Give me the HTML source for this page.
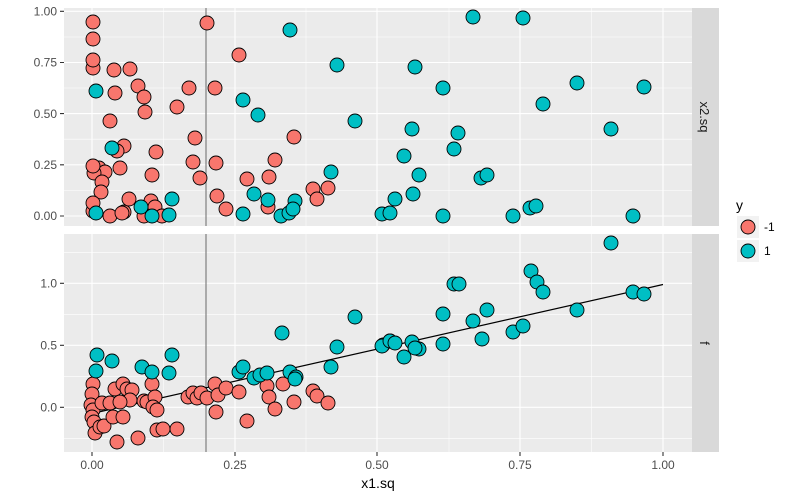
<!DOCTYPE html>
<html><head><meta charset="utf-8"><style>body{margin:0;background:#fff}svg{display:block}text{font-family:"Liberation Sans",sans-serif}</style></head><body>
<svg width="800" height="500" viewBox="0 0 800 500" xmlns="http://www.w3.org/2000/svg">
<rect width="800" height="500" fill="#fff"/>
<rect x="64" y="8" width="628" height="218" fill="#EBEBEB"/>
<rect x="64" y="234" width="628" height="218" fill="#EBEBEB"/>
<rect x="692" y="8" width="27" height="218" fill="#D9D9D9"/>
<rect x="692" y="234" width="27" height="218" fill="#D9D9D9"/>
<g stroke="#fff" fill="none">
<g stroke-width="0.55">
<path d="M163.4 8V226M306 8V226M449 8V226M591.5 8V226M163.4 234V452M306 234V452M449 234V452M591.5 234V452"/>
<path d="M64 190.4H692M64 139.2H692M64 88H692M64 37H692"/>
<path d="M64 438.3H692M64 376.3H692M64 314.3H692M64 252.3H692"/>
</g>
<g stroke-width="1.1">
<path d="M92 8V226M235 8V226M377 8V226M520 8V226M663 8V226M92 234V452M235 234V452M377 234V452M520 234V452M663 234V452"/>
<path d="M64 216H692M64 164.8H692M64 113.6H692M64 62.5H692M64 11.3H692"/>
<path d="M64 407.3H692M64 345.3H692M64 283.3H692"/>
</g>
</g>
<path d="M206 8V226M206 234V452" stroke="#7f7f7f" stroke-width="1.2"/>
<path d="M92 413.5L663 284.5" stroke="#000" stroke-width="1.2"/>
<g stroke="#000" stroke-width="0.9" fill="#F8766D">
<circle cx="93" cy="22" r="7"/><circle cx="93" cy="39" r="7"/><circle cx="93" cy="68" r="7"/><circle cx="93" cy="60" r="7"/><circle cx="114" cy="70" r="7"/><circle cx="130" cy="69" r="7"/><circle cx="138" cy="86" r="7"/><circle cx="144" cy="97" r="7"/><circle cx="145" cy="112" r="7"/><circle cx="115" cy="93" r="7"/><circle cx="110" cy="121" r="7"/><circle cx="124" cy="146" r="7"/><circle cx="117" cy="151" r="7"/><circle cx="120" cy="168" r="7"/><circle cx="99" cy="168" r="7"/><circle cx="105" cy="172" r="7"/><circle cx="94" cy="173" r="7"/><circle cx="93" cy="166" r="7"/><circle cx="102" cy="182" r="7"/><circle cx="101" cy="192" r="7"/><circle cx="93" cy="211" r="7"/><circle cx="93" cy="203" r="7"/><circle cx="110" cy="216" r="7"/><circle cx="124" cy="212" r="7"/><circle cx="122" cy="213" r="7"/><circle cx="129" cy="199" r="7"/><circle cx="144" cy="216" r="7"/><circle cx="151" cy="201" r="7"/><circle cx="155" cy="207" r="7"/><circle cx="162" cy="216" r="7"/><circle cx="152" cy="175" r="7"/><circle cx="156" cy="152" r="7"/><circle cx="177" cy="107" r="7"/><circle cx="189" cy="88" r="7"/><circle cx="195" cy="138" r="7"/><circle cx="193" cy="162" r="7"/><circle cx="200" cy="178" r="7"/><circle cx="207" cy="23" r="7"/><circle cx="215" cy="88" r="7"/><circle cx="216" cy="163" r="7"/><circle cx="217" cy="196" r="7"/><circle cx="226" cy="209" r="7"/><circle cx="239" cy="55" r="7"/><circle cx="247" cy="179" r="7"/><circle cx="269" cy="177" r="7"/><circle cx="275" cy="160" r="7"/><circle cx="268" cy="207" r="7"/><circle cx="294" cy="137" r="7"/><circle cx="313" cy="189" r="7"/><circle cx="317" cy="199" r="7"/><circle cx="328" cy="188" r="7"/>
<circle cx="93" cy="384" r="7"/><circle cx="92" cy="394" r="7"/><circle cx="91" cy="405" r="7"/><circle cx="93" cy="410" r="7"/><circle cx="92" cy="417" r="7"/><circle cx="94" cy="422" r="7"/><circle cx="95" cy="433" r="7"/><circle cx="100" cy="427" r="7"/><circle cx="104" cy="426" r="7"/><circle cx="102" cy="403" r="7"/><circle cx="110" cy="403" r="7"/><circle cx="115" cy="389" r="7"/><circle cx="123" cy="384" r="7"/><circle cx="127" cy="389" r="7"/><circle cx="132" cy="390" r="7"/><circle cx="130" cy="400" r="7"/><circle cx="120" cy="402" r="7"/><circle cx="113" cy="417" r="7"/><circle cx="123" cy="417" r="7"/><circle cx="117" cy="442" r="7"/><circle cx="138" cy="438" r="7"/><circle cx="144" cy="401" r="7"/><circle cx="147" cy="402" r="7"/><circle cx="152" cy="384" r="7"/><circle cx="155" cy="397" r="7"/><circle cx="153" cy="407" r="7"/><circle cx="157" cy="410" r="7"/><circle cx="157" cy="430" r="7"/><circle cx="163" cy="429" r="7"/><circle cx="177" cy="429" r="7"/><circle cx="188" cy="397" r="7"/><circle cx="193" cy="393" r="7"/><circle cx="197" cy="398" r="7"/><circle cx="201" cy="393" r="7"/><circle cx="207" cy="398" r="7"/><circle cx="215" cy="384" r="7"/><circle cx="216" cy="412" r="7"/><circle cx="218" cy="395" r="7"/><circle cx="226" cy="388" r="7"/><circle cx="239" cy="392" r="7"/><circle cx="247" cy="421" r="7"/><circle cx="267" cy="386" r="7"/><circle cx="269" cy="397" r="7"/><circle cx="275" cy="409" r="7"/><circle cx="283" cy="384" r="7"/><circle cx="294" cy="402" r="7"/><circle cx="313" cy="391" r="7"/><circle cx="317" cy="396" r="7"/><circle cx="328" cy="403" r="7"/>
</g>
<g stroke="#000" stroke-width="0.9" fill="#00BFC4">
<circle cx="96" cy="91" r="7"/><circle cx="96" cy="213" r="7"/><circle cx="112" cy="148" r="7"/><circle cx="141" cy="207" r="7"/><circle cx="152" cy="216" r="7"/><circle cx="169" cy="215" r="7"/><circle cx="172" cy="199" r="7"/><circle cx="243" cy="214" r="7"/><circle cx="243" cy="100" r="7"/><circle cx="258" cy="115" r="7"/><circle cx="254" cy="194" r="7"/><circle cx="268" cy="200" r="7"/><circle cx="281" cy="216" r="7"/><circle cx="289" cy="213" r="7"/><circle cx="290" cy="30" r="7"/><circle cx="295" cy="201" r="7"/><circle cx="293" cy="209" r="7"/><circle cx="337" cy="65" r="7"/><circle cx="331" cy="172" r="7"/><circle cx="355" cy="121" r="7"/>
<circle cx="473" cy="17" r="7"/><circle cx="523" cy="18" r="7"/><circle cx="415" cy="67" r="7"/><circle cx="443" cy="88" r="7"/><circle cx="577" cy="83" r="7"/><circle cx="644" cy="87" r="7"/><circle cx="543" cy="104" r="7"/><circle cx="412" cy="129" r="7"/><circle cx="458" cy="133" r="7"/><circle cx="454" cy="149" r="7"/><circle cx="611" cy="129" r="7"/><circle cx="404" cy="156" r="7"/><circle cx="419" cy="175" r="7"/><circle cx="481" cy="178" r="7"/><circle cx="487" cy="175" r="7"/><circle cx="413" cy="194" r="7"/><circle cx="395" cy="199" r="7"/><circle cx="382" cy="214" r="7"/><circle cx="390" cy="213" r="7"/><circle cx="443" cy="216" r="7"/><circle cx="513" cy="216" r="7"/><circle cx="530" cy="208" r="7"/><circle cx="536" cy="206" r="7"/><circle cx="633" cy="216" r="7"/>
<circle cx="97" cy="355" r="7"/><circle cx="96" cy="371" r="7"/><circle cx="112" cy="361" r="7"/><circle cx="142" cy="367" r="7"/><circle cx="152" cy="372" r="7"/><circle cx="169" cy="373" r="7"/><circle cx="172" cy="355" r="7"/><circle cx="239" cy="372" r="7"/><circle cx="243" cy="367" r="7"/><circle cx="254" cy="378" r="7"/><circle cx="260" cy="375" r="7"/><circle cx="267" cy="373" r="7"/><circle cx="282" cy="333" r="7"/><circle cx="290" cy="372" r="7"/><circle cx="296" cy="377" r="7"/><circle cx="295" cy="379" r="7"/><circle cx="337" cy="347" r="7"/><circle cx="331" cy="367" r="7"/><circle cx="355" cy="317" r="7"/><circle cx="383" cy="345" r="7"/><circle cx="390" cy="341" r="7"/>
<circle cx="611" cy="243" r="7"/><circle cx="531" cy="271" r="7"/><circle cx="537" cy="282" r="7"/><circle cx="543" cy="292" r="7"/><circle cx="454" cy="284" r="7"/><circle cx="459" cy="284" r="7"/><circle cx="633" cy="292" r="7"/><circle cx="644" cy="294" r="7"/><circle cx="443" cy="314" r="7"/><circle cx="577" cy="310" r="7"/><circle cx="487" cy="310" r="7"/><circle cx="473" cy="321" r="7"/><circle cx="482" cy="339" r="7"/><circle cx="513" cy="332" r="7"/><circle cx="523" cy="326" r="7"/><circle cx="443" cy="344" r="7"/><circle cx="382" cy="346" r="7"/><circle cx="390" cy="341" r="7"/><circle cx="395" cy="343" r="7"/><circle cx="412" cy="342" r="7"/><circle cx="419" cy="349" r="7"/><circle cx="415" cy="348" r="7"/><circle cx="404" cy="357" r="7"/>
</g>
<g stroke="#333" stroke-width="1.1">
<path d="M60 216H64M60 164.8H64M60 113.6H64M60 62.5H64M60 11.3H64M60 407.3H64M60 345.3H64M60 283.3H64"/>
<path d="M92 452V456M235 452V456M377 452V456M520 452V456M663 452V456"/>
</g>
<g fill="#4D4D4D" font-size="12" text-anchor="end">
<text x="57" y="220">0.00</text><text x="57" y="169">0.25</text><text x="57" y="118">0.50</text><text x="57" y="66.5">0.75</text><text x="57" y="15.5">1.00</text>
<text x="57" y="411.5">0.0</text><text x="57" y="349.5">0.5</text><text x="57" y="287.5">1.0</text>
</g>
<g fill="#4D4D4D" font-size="12" text-anchor="middle">
<text x="92" y="469">0.00</text><text x="235" y="469">0.25</text><text x="377" y="469">0.50</text><text x="520" y="469">0.75</text><text x="663" y="469">1.00</text>
</g>
<text x="378" y="488" font-size="14" text-anchor="middle" fill="#000">x1.sq</text>
<g fill="#1A1A1A" font-size="13" text-anchor="middle">
<text transform="translate(700,117) rotate(90)">x2.sq</text>
<text transform="translate(700,343) rotate(90)">f</text>
</g>
<text x="736" y="210" font-size="14">y</text>
<rect x="737" y="216" width="22" height="22" fill="#F2F2F2"/>
<rect x="737" y="240" width="22" height="22" fill="#F2F2F2"/>
<circle cx="748" cy="227" r="7" fill="#F8766D" stroke="#000" stroke-width="0.9"/>
<circle cx="748" cy="251" r="7" fill="#00BFC4" stroke="#000" stroke-width="0.9"/>
<text x="764" y="231" font-size="12">-1</text>
<text x="764" y="255" font-size="12">1</text>
</svg>
</body></html>
